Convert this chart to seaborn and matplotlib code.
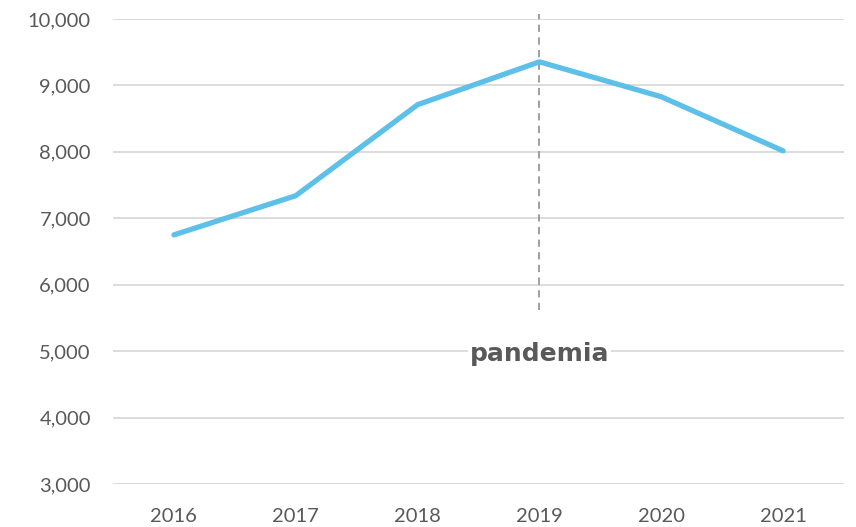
import pandas as pd
import matplotlib.pyplot as plt
import seaborn as sns

# data
years = ["2016", "2017", "2018", "2019", "2020", "2021"]
values = [6750, 7340, 8710, 9355, 8830, 8015]

df = pd.DataFrame({"year": years, "value": values})

sns.set_style("white")
plt.rcParams["font.family"] = ["Lato", "DejaVu Sans"]

fig = plt.figure(figsize=(8.56, 5.27), dpi=100)
ax = fig.add_axes([113 / 856, 43 / 527, 731 / 856, 465 / 527])

sns.lineplot(data=df, x="year", y="value", color="#5DC0E8", linewidth=3.8,
             sort=False, ax=ax, zorder=3)

ax.set_xlim(-0.5, 5.5)
ax.set_ylim(3000, 10000)
ax.set_yticks(range(3000, 10001, 1000))
ax.yaxis.set_major_formatter(plt.FuncFormatter(lambda v, p: f"{int(v):,}"))
ax.grid(axis="y", color="#D9D9D9", linewidth=1.3)
ax.grid(axis="x", visible=False)
ax.set_axisbelow(True)
for s in ax.spines.values():
    s.set_visible(False)
ax.tick_params(axis="both", length=0, labelsize=14.5, colors="#595959")
ax.tick_params(axis="y", pad=16)
ax.tick_params(axis="x", pad=17)
ax.set_xlabel("")
ax.set_ylabel("")

# pandemic marker
ax.plot([3, 3], [5620, 10070], color="#969696", linewidth=1.3,
        linestyle=(0, (4, 3)), clip_on=False, zorder=2)
ax.text(3, 5000, "pandemia", ha="center", va="center_baseline", fontsize=18,
        fontweight="bold", color="#595959", family="DejaVu Sans",
        bbox=dict(facecolor="white", edgecolor="none", pad=1), zorder=4)

plt.savefig("out.png", dpi=100)
